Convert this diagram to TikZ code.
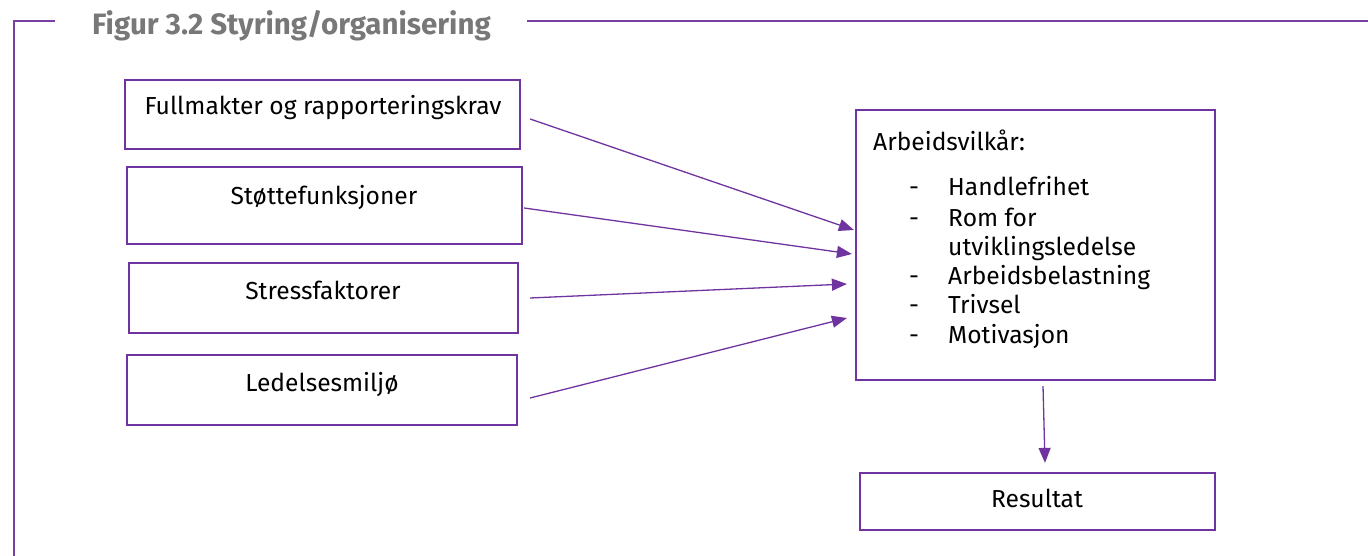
\documentclass[tikz,border=0pt]{standalone}
\usepackage{fontspec}
\setmainfont{Fira Sans}
\usetikzlibrary{arrows.meta}
\definecolor{frm}{RGB}{122,64,160}
\definecolor{pur}{RGB}{112,52,160}
\definecolor{ttl}{RGB}{120,120,120}
\tikzset{
  box/.style={draw=pur,line width=2.2pt,rectangle,inner sep=0pt},
  lbl/.style={inner sep=0pt,font=\fontsize{24.6}{29}\selectfont,text=black},
  arr/.style={draw=pur,line width=1.3pt,-{Triangle[length=15pt,width=12pt]}},
  frame/.style={draw=frm,line width=2.8pt}
}
\begin{document}
\begin{tikzpicture}[x=1pt,y=-1pt]
\useasboundingbox (0,0) rectangle (1368,556);
% frame
\draw[frame] (55,21) -- (14,21) -- (14,556);
\draw[frame] (527,21) -- (1368,21);
\node[inner sep=0pt,anchor=base west,text=ttl,font=\fontsize{29.5}{34}\selectfont\bfseries] (title) at (92,35) {Figur 3.2 Styring/organisering};
% boxes
\node[box,minimum width=395pt,minimum height=69pt] (f) at (322.5,114.5) {};
\node[box,minimum width=395pt,minimum height=77pt] (s) at (324.5,205.5) {};
\node[box,minimum width=389pt,minimum height=70pt] (st) at (323.5,298) {};
\node[box,minimum width=390pt,minimum height=70pt] (l) at (322,390) {};
\node[box,minimum width=359pt,minimum height=270pt] (a) at (1035.5,245) {};
\node[box,minimum width=355pt,minimum height=57pt] (r) at (1037.5,501.5) {};
% labels
\node[lbl,anchor=base] (ft) at (323,115) {Fullmakter og rapporteringskrav};
\node[lbl,anchor=base] (stt) at (324,205) {Støttefunksjoner};
\node[lbl,anchor=base] (stt2) at (323,299) {Stressfaktorer};
\node[lbl,anchor=base] (lt) at (322,391) {Ledelsesmiljø};
\node[lbl,anchor=base] (rt) at (1037,507) {Resultat};
\node[lbl,anchor=base west] (at) at (873,151) {Arbeidsvilkår:};
\foreach \yy/\tt/\dd in {196/Handlefrihet/1,226/Rom for/1,255/utviklingsledelse/0,284/Arbeidsbelastning/1,313/Trivsel/1,343/Motivasjon/1}{
  \node[lbl,anchor=base west] at (948,\yy) {\tt};
  \ifnum\dd=1 \node[lbl,anchor=base west] at (909,\yy) {-};\fi
}
% arrows
\draw[arr] ([shift={(9,4.5)}]f.east) -- ([shift={(-1,-15)}]a.west);
\draw[arr] ([shift={(1,2.5)}]s.east) -- ([shift={(-3,9)}]a.west);
\draw[arr] ([shift={(11,0)}]st.east) -- ([shift={(-8,39)}]a.west);
\draw[arr] ([shift={(12,8)}]l.east) -- ([shift={(-8,73)}]a.west);
\draw[arr] ([shift={(7.5,5)}]a.south) -- ([shift={(7.5,-9)}]r.north);
\end{tikzpicture}
\end{document}
